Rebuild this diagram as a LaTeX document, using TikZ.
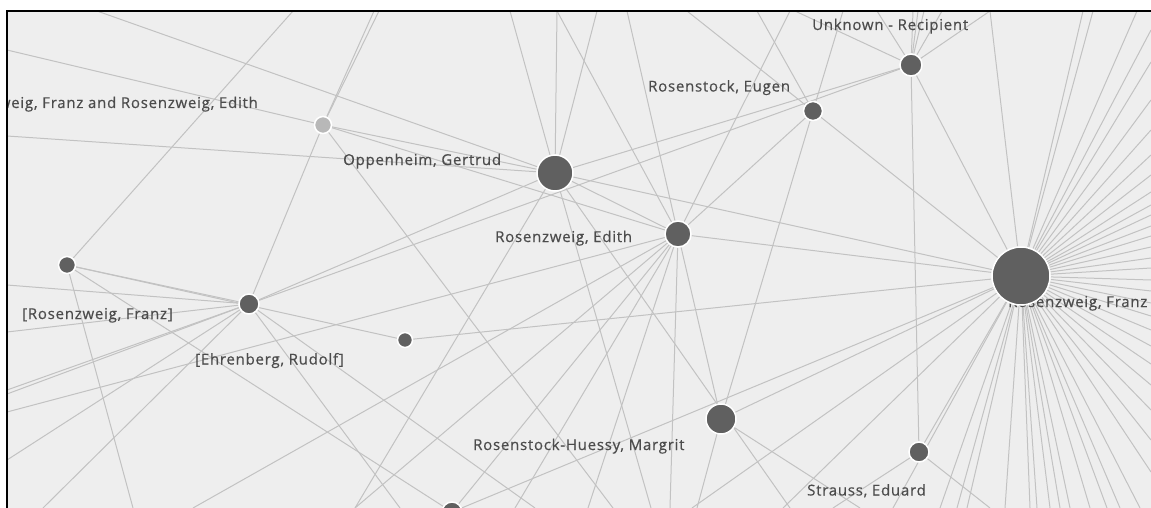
\documentclass[tikz,border=0pt]{standalone}
\usepackage{fontspec}
\newfontfamily\labfont[LetterSpace=5,FakeBold=0.5]{Open Sans}
\definecolor{bgc}{HTML}{EEEEEE}
\definecolor{edgec}{HTML}{C2C2C2}
\definecolor{nodec}{HTML}{606060}
\definecolor{lightc}{HTML}{B8B8B8}
\definecolor{labc}{HTML}{4C4C4C}
\pgfdeclarelayer{bglayer}
\pgfdeclarelayer{edgelayer}
\pgfsetlayers{bglayer,edgelayer,main}
\tikzset{
  lnk/.style={draw=edgec, line width=1pt},
  vtx/.style={circle, fill=nodec, draw=white, line width=1.5pt, inner sep=0pt, minimum size=#1},
  lvtx/.style={vtx=#1, fill=lightc},
  lbl/.style={font=\labfont\fontsize{15}{17}\selectfont, text=labc, inner sep=0pt},
}
\begin{document}
\begin{tikzpicture}[x=1pt,y=-1pt]
\useasboundingbox (0,0) rectangle (1151,508);
\begin{pgfonlayer}{bglayer}
\fill[white] (0,0) rectangle (1151,508);
\fill[bgc] (7,11) rectangle (1151,508);
\end{pgfonlayer}
\begin{scope}
\clip (7,11) rectangle (1151,508);
% labels (under nodes)
\node[lbl, anchor=base west] (Lunk) at (812,30) {Unknown - Recipient};
\node[lbl, anchor=base west] (Leug) at (648,91.5) {Rosenstock, Eugen};
\node[lbl, anchor=base east] (Llgt) at (258,108) {Rosenzweig, Franz and Rosenzweig, Edith};
\node[lbl, anchor=base west] (Lopp) at (343,165) {Oppenheim, Gertrud};
\node[lbl, anchor=base west] (Ledi) at (495,242) {Rosenzweig, Edith};
\node[lbl, anchor=base west] (Lfra) at (1008,307) {Rosenzweig, Franz};
\node[lbl, anchor=base west] (Lrf) at (22,319) {[Rosenzweig, Franz]};
\node[lbl, anchor=base west] (Lehr) at (195,364.5) {[Ehrenberg, Rudolf]};
\node[lbl, anchor=base west] (Lmar) at (473,450) {Rosenstock-Huessy, Margrit};
\node[lbl, anchor=base west] (Lstr) at (807,495.5) {Strauss, Eduard};
% nodes
\node[vtx=22] (unk) at (911,65) {};
\node[vtx=19] (eug) at (813,111) {};
\node[vtx=36] (opp) at (555,173) {};
\node[lvtx=17] (lgt) at (323,125) {};
\node[vtx=26] (edi) at (678,234) {};
\node[vtx=58] (fra) at (1021,276) {};
\node[vtx=17] (n67) at (67,265) {};
\node[vtx=20] (ehr) at (249,304) {};
\node[vtx=15] (n405) at (405,340) {};
\node[vtx=30] (mar) at (721,419) {};
\node[vtx=20] (str) at (919,452) {};
\node[vtx=20] (bot) at (452,512) {};
% free ends
\coordinate (tA) at (97,11);  \coordinate (tB) at (510,11); \coordinate (tC) at (557,11);
\coordinate (tD) at (597,11); \coordinate (tE) at (627,11); \coordinate (tF) at (293,11);
\coordinate (tG1) at (374,11); \coordinate (tG2) at (379,11); \coordinate (tH) at (687,11);
\coordinate (tI) at (757,11); \coordinate (tJ) at (843,11); \coordinate (tK) at (790,11);
\coordinate (tL) at (795,11); \coordinate (tM) at (877,11); \coordinate (tN1) at (913,11);
\coordinate (tN2) at (918,11); \coordinate (tN3) at (924,11); \coordinate (tO) at (942,11);
\coordinate (tP) at (990,11);
\coordinate (lA) at (7,50); \coordinate (lB) at (7,136); \coordinate (lC) at (7,285);
\coordinate (lD) at (7,332); \coordinate (lE1) at (7,390); \coordinate (lE2) at (7,394);
\coordinate (lF) at (7,412); \coordinate (lG) at (7,460);
\coordinate (bA) at (43,508); \coordinate (bB) at (133,508); \coordinate (bC) at (193,508);
\coordinate (bD) at (355,508); \coordinate (bE) at (400,508); \coordinate (bF) at (535,508);
\coordinate (bG) at (613,508); \coordinate (bH) at (515,508); \coordinate (bI) at (588,508);
\coordinate (bJ) at (670,508); \coordinate (bK) at (651,508); \coordinate (bL) at (790,508);
\coordinate (bM) at (697,508); \coordinate (bN) at (860,508); \coordinate (bO) at (833,508);
\coordinate (bP) at (990,508);
\foreach \x [count=\i] in {1083,1093,1137} \coordinate (ft\i) at (\x,11);
\foreach \x [count=\i] in {692,783,893,940,957,967,1005,1030,1037,1050,1060,1070,1090,1107,1120,1140}
  \coordinate (fb\i) at (\x,508);
\foreach \y [count=\i] in {30,62,100,130,155,175,192,205,215,226,236,247,258,268,280,291,303,316,330,346,364,385,410,440,472}
  \coordinate (fr\i) at (1151,\y);
\end{scope}
\begin{pgfonlayer}{edgelayer}
\begin{scope}
\clip (7,11) rectangle (1151,508);
% node to node
\draw[lnk] (opp) -- (fra);
\draw[lnk] (opp) -- (unk);
\draw[lnk] (ehr) -- (unk);
\draw[lnk] (opp) -- (edi);
\draw[lnk] (lgt) -- (opp);
\draw[lnk] (lgt) -- (edi);
\draw[lnk] (lgt) -- (ehr);
\draw[lnk] (n67) -- (ehr);
\draw[lnk] (n67) -- (n405);
\draw[lnk] (n67) -- (bot);
\draw[lnk] (ehr) -- (opp);
\draw[lnk] (n405) -- (fra);
\draw[lnk] (edi) -- (fra);
\draw[lnk] (edi) -- (eug);
\draw[lnk] (edi) -- (mar);
\draw[lnk] (edi) -- (bot);
\draw[lnk] (eug) -- (fra);
\draw[lnk] (eug) -- (mar);
\draw[lnk] (unk) -- (fra);
\draw[lnk] (unk) -- (str);
\draw[lnk] (mar) -- (fra);
\draw[lnk] (bot) -- (fra);
\draw[lnk] (str) -- (fra);
% node to free end
\foreach \e in {tA,tB,tC,tD,lB,bD,bK,bL} \draw[lnk] (opp) -- (\e);
\foreach \e in {tG1,tG2,lA,bG} \draw[lnk] (lgt) -- (\e);
\foreach \e in {tF,bB} \draw[lnk] (n67) -- (\e);
\foreach \e in {lC,lD,lE1,lE2,lG,bA,bE,bF} \draw[lnk] (ehr) -- (\e);
\foreach \e in {bC,bD,bH,bI,bJ,lF,tC,tE,tK} \draw[lnk] (edi) -- (\e);
\foreach \e in {tH,tI,tJ} \draw[lnk] (eug) -- (\e);
\foreach \e in {tL,tM,tN1,tN2,tN3,tO,tP} \draw[lnk] (unk) -- (\e);
\foreach \e in {bM,bN} \draw[lnk] (mar) -- (\e);
\foreach \e in {bO,bP} \draw[lnk] (str) -- (\e);
\draw[lnk] (fra) -- (tP);
\foreach \i in {1,...,3} \draw[lnk] (fra) -- (ft\i);
\foreach \i in {1,...,16} \draw[lnk] (fra) -- (fb\i);
\foreach \i in {1,...,25} \draw[lnk] (fra) -- (fr\i);
\end{scope}
\end{pgfonlayer}
\draw[black, line width=2pt] (7,508) -- (7,11) -- (1151,11);
\end{tikzpicture}
\end{document}
